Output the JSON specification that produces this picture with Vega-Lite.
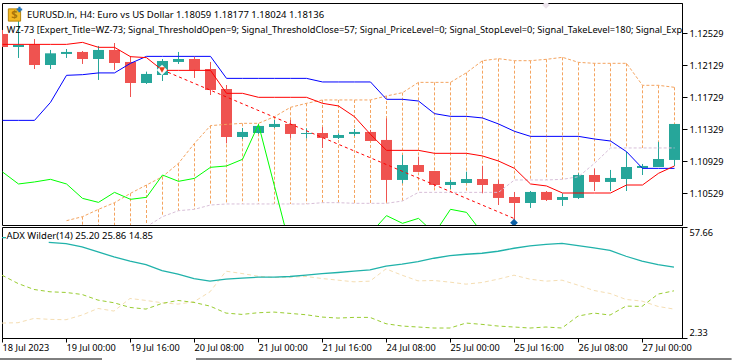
{"$schema":"https://vega.github.io/schema/vega-lite/v6.json","padding":{"top":2,"left":-3,"right":0,"bottom":0},"spacing":2,"bounds":"flush","background":"white","config":{"view":{"stroke":"#000000","strokeWidth":1},"text":{"font":"Noto Sans"},"axis":{"labelFont":"Noto Sans","labelFontSize":9.2,"labelColor":"#000000","domainColor":"#000000","tickColor":"#000000","grid":false,"title":null}},
"datasets":{"price":[
{"i":0,"d":"d","o":1.12517,"c":1.12354,"h":1.12567,"l":1.12354,"blue":1.11437,"red":1.12387,"green":1.10792},
{"i":1,"d":"u","o":1.12354,"c":1.12379,"h":1.12733,"l":1.12217,"blue":1.11437,"red":1.12387,"green":1.10642},
{"i":2,"d":"d","o":1.12387,"c":1.12129,"h":1.12454,"l":1.12079,"blue":1.11437,"red":1.12387,"green":1.10667},
{"i":3,"d":"u","o":1.12129,"c":1.12275,"h":1.12317,"l":1.12079,"blue":1.11662,"red":1.12387,"green":1.107},
{"i":4,"d":"u","o":1.12267,"c":1.12292,"h":1.12329,"l":1.12217,"blue":1.12,"red":1.12387,"green":1.10642,"a":1.10183},
{"i":5,"d":"d","o":1.12292,"c":1.12204,"h":1.12304,"l":1.12142,"blue":1.12008,"red":1.12412,"green":1.10462,"a":1.10233,"b":1.10025},
{"i":6,"d":"u","o":1.12204,"c":1.12317,"h":1.12367,"l":1.11942,"blue":1.1203,"red":1.1235,"green":1.10412,"a":1.10325,"b":1.10025},
{"i":7,"d":"d","o":1.12317,"c":1.12154,"h":1.12404,"l":1.12067,"blue":1.1203,"red":1.1235,"green":1.10537,"a":1.10408,"b":1.10025},
{"i":8,"d":"d","o":1.12167,"c":1.11904,"h":1.12242,"l":1.11729,"blue":1.1215,"red":1.12233,"green":1.1045,"a":1.10525,"b":1.10025},
{"i":9,"d":"u","o":1.11904,"c":1.12017,"h":1.12046,"l":1.11892,"blue":1.12237,"red":1.12221,"green":1.10475,"a":1.10629,"b":1.10108},
{"i":10,"d":"u","o":1.12004,"c":1.12179,"h":1.12204,"l":1.11929,"blue":1.12237,"red":1.12062,"green":1.10754,"a":1.10733,"b":1.10233},
{"i":11,"d":"u","o":1.12167,"c":1.12204,"h":1.12292,"l":1.12142,"blue":1.12237,"red":1.12062,"green":1.10675,"a":1.109,"b":1.10308},
{"i":12,"d":"d","o":1.12204,"c":1.12067,"h":1.12233,"l":1.11967,"blue":1.12237,"red":1.12062,"green":1.10712,"a":1.1115,"b":1.10325},
{"i":13,"d":"d","o":1.12079,"c":1.11817,"h":1.12167,"l":1.11754,"blue":1.12237,"red":1.12062,"green":1.1085,"a":1.11371,"b":1.10379},
{"i":14,"d":"d","o":1.11829,"c":1.11229,"h":1.11879,"l":1.1115,"blue":1.11962,"red":1.11775,"green":1.10867,"a":1.11387,"b":1.10392},
{"i":15,"d":"u","o":1.11229,"c":1.11292,"h":1.11342,"l":1.11204,"blue":1.11962,"red":1.11775,"green":1.1095,"a":1.114,"b":1.10392},
{"i":16,"d":"u","o":1.11279,"c":1.11367,"h":1.11392,"l":1.11267,"blue":1.11962,"red":1.11725,"green":1.11387,"a":1.114,"b":1.10392},
{"i":17,"d":"u","o":1.11354,"c":1.11392,"h":1.11442,"l":1.11342,"blue":1.11962,"red":1.11725,"green":1.10612,"a":1.11483,"b":1.10392},
{"i":18,"d":"d","o":1.11392,"c":1.11267,"h":1.11442,"l":1.11217,"blue":1.11962,"red":1.11725,"green":1.09833,"a":1.116,"b":1.10392},
{"i":19,"d":"u","o":1.11267,"c":1.11279,"h":1.11337,"l":1.11212,"blue":1.11962,"red":1.11725,"green":1.09192,"a":1.1165,"b":1.10392},
{"i":20,"d":"d","o":1.11279,"c":1.11217,"h":1.11354,"l":1.11092,"blue":1.11917,"red":1.1165,"green":1.09192,"a":1.11692,"b":1.10408},
{"i":21,"d":"u","o":1.11217,"c":1.11254,"h":1.11275,"l":1.11204,"blue":1.11917,"red":1.11617,"green":1.09192,"a":1.11692,"b":1.10408},
{"i":22,"d":"u","o":1.11267,"c":1.11292,"h":1.11329,"l":1.11242,"blue":1.11917,"red":1.11483,"green":1.09192,"a":1.11692,"b":1.104},
{"i":23,"d":"d","o":1.11292,"c":1.11179,"h":1.11317,"l":1.11179,"blue":1.11917,"red":1.11262,"green":1.10025,"a":1.11692,"b":1.104},
{"i":24,"d":"d","o":1.11192,"c":1.10692,"h":1.11462,"l":1.10421,"blue":1.117,"red":1.11062,"green":1.10246,"a":1.11742,"b":1.104},
{"i":25,"d":"u","o":1.10692,"c":1.10879,"h":1.11004,"l":1.1065,"blue":1.117,"red":1.11062,"green":1.1015,"a":1.11783,"b":1.10429},
{"i":26,"d":"d","o":1.10879,"c":1.10792,"h":1.10983,"l":1.10792,"blue":1.11679,"red":1.11062,"green":1.10212,"a":1.11912,"b":1.10537},
{"i":27,"d":"d","o":1.10804,"c":1.10629,"h":1.10804,"l":1.10608,"blue":1.11521,"red":1.11025,"green":1.10025,"a":1.11912,"b":1.10537},
{"i":28,"d":"u","o":1.10629,"c":1.10667,"h":1.10692,"l":1.10579,"blue":1.11487,"red":1.11025,"green":1.10325,"a":1.11912,"b":1.10537},
{"i":29,"d":"u","o":1.10654,"c":1.10704,"h":1.10796,"l":1.1065,"blue":1.11487,"red":1.11025,"green":1.10287,"a":1.12033,"b":1.10537},
{"i":30,"d":"d","o":1.10704,"c":1.10629,"h":1.10867,"l":1.10525,"blue":1.11467,"red":1.10992,"green":1.10025,"a":1.12183,"b":1.10537},
{"i":31,"d":"d","o":1.10642,"c":1.10467,"h":1.10692,"l":1.10379,"blue":1.11392,"red":1.10929,"a":1.12208,"b":1.10537},
{"i":32,"d":"d","o":1.10479,"c":1.10404,"h":1.10542,"l":1.10192,"blue":1.113,"red":1.10837,"a":1.12183,"b":1.10692},
{"i":33,"d":"u","o":1.10404,"c":1.10542,"h":1.10554,"l":1.10342,"blue":1.11237,"red":1.10642,"a":1.12183,"b":1.10692},
{"i":34,"d":"d","o":1.10542,"c":1.10442,"h":1.10554,"l":1.10429,"blue":1.11237,"red":1.10617,"a":1.122,"b":1.10692},
{"i":35,"d":"u","o":1.10442,"c":1.10479,"h":1.10525,"l":1.10367,"blue":1.11237,"red":1.10529,"a":1.12225,"b":1.107},
{"i":36,"d":"u","o":1.10467,"c":1.10754,"h":1.10775,"l":1.10454,"blue":1.11237,"red":1.10529,"a":1.12162,"b":1.10733},
{"i":37,"d":"d","o":1.10754,"c":1.10667,"h":1.10837,"l":1.10554,"blue":1.11204,"red":1.10529,"a":1.1215,"b":1.109},
{"i":38,"d":"u","o":1.10667,"c":1.10717,"h":1.10817,"l":1.10554,"blue":1.11179,"red":1.10529,"a":1.1215,"b":1.11092},
{"i":39,"d":"u","o":1.10704,"c":1.10854,"h":1.11046,"l":1.10554,"blue":1.11046,"red":1.10629,"a":1.1215,"b":1.11092},
{"i":40,"d":"u","o":1.10842,"c":1.10867,"h":1.10892,"l":1.10754,"blue":1.10837,"red":1.10629,"a":1.11875,"b":1.11092},
{"i":41,"d":"u","o":1.10854,"c":1.10954,"h":1.11167,"l":1.10854,"blue":1.10837,"red":1.10775,"a":1.11875,"b":1.11092},
{"i":42,"d":"u","o":1.10942,"c":1.11392,"h":1.11392,"l":1.10867,"blue":1.10837,"red":1.10867,"a":1.1185,"b":1.11092}],
"trade":[{"i":10,"p":1.12067},{"i":32,"p":1.10208}],
"one":[{"i":0}],
"adx":[{"i":0,"s":"a","v":52.36},{"i":0.25,"s":"a","v":52.36},{"i":2.92,"s":"b","v":50.04},{"i":4,"s":"b","v":49.38},{"i":5,"s":"b","v":47.72},{"i":6,"s":"b","v":45.24},{"i":7,"s":"b","v":42.75},{"i":8,"s":"b","v":40.6},{"i":9,"s":"b","v":38.94},{"i":10,"s":"b","v":35.96},{"i":11,"s":"b","v":34.14},{"i":12,"s":"b","v":31.98},{"i":13,"s":"b","v":30.66},{"i":14,"s":"b","v":31.65},{"i":15,"s":"b","v":32.15},{"i":16,"s":"b","v":32.65},{"i":17,"s":"b","v":32.65},{"i":18,"s":"b","v":32.98},{"i":19,"s":"b","v":33.64},{"i":20,"s":"b","v":34.47},{"i":21,"s":"b","v":34.97},{"i":22,"s":"b","v":35.63},{"i":23,"s":"b","v":36.29},{"i":24,"s":"b","v":38.11},{"i":25,"s":"b","v":39.11},{"i":26,"s":"b","v":40.43},{"i":27,"s":"b","v":42.09},{"i":28,"s":"b","v":43.41},{"i":29,"s":"b","v":44.08},{"i":30,"s":"b","v":44.57},{"i":31,"s":"b","v":45.57},{"i":32,"s":"b","v":47.06},{"i":33,"s":"b","v":48.22},{"i":34,"s":"b","v":49.05},{"i":35,"s":"b","v":49.54},{"i":36,"s":"b","v":48.38},{"i":37,"s":"b","v":47.22},{"i":38,"s":"b","v":46.06},{"i":39,"s":"b","v":43.08},{"i":40,"s":"b","v":40.6},{"i":41,"s":"b","v":38.94},{"i":42,"s":"b","v":37.62}],
"di":[{"i":0,"p":33.64,"m":9.78},{"i":1,"p":29.5,"m":9.95},{"i":2,"p":26.52,"m":12.1},{"i":3,"p":25.36,"m":11.61},{"i":4,"p":25.03,"m":11.44},{"i":5,"p":24.03,"m":13.76},{"i":6,"p":21.22,"m":17.07},{"i":7,"p":19.89,"m":15.75},{"i":8,"p":17.57,"m":22.04},{"i":9,"p":16.74,"m":21.05},{"i":10,"p":19.56,"m":19.89},{"i":11,"p":21.05,"m":19.23},{"i":12,"p":20.06,"m":20.39},{"i":13,"p":18.23,"m":25.36},{"i":14,"p":14.75,"m":35.63},{"i":15,"p":14.09,"m":34.47},{"i":16,"p":14.92,"m":33.14},{"i":17,"p":15.25,"m":32.48},{"i":18,"p":14.59,"m":32.65},{"i":19,"p":13.93,"m":32.98},{"i":20,"p":12.77,"m":31.98},{"i":21,"p":12.27,"m":31.16},{"i":22,"p":12.6,"m":30.33},{"i":23,"p":12.6,"m":30.66},{"i":24,"p":9.45,"m":36.79},{"i":25,"p":8.29,"m":33.64},{"i":26,"p":7.8,"m":30.82},{"i":27,"p":7.3,"m":30.99},{"i":28,"p":7.3,"m":30.16},{"i":29,"p":9.78,"m":29.17},{"i":30,"p":9.12,"m":30},{"i":31,"p":8.29,"m":31.65},{"i":32,"p":7.8,"m":33.64},{"i":33,"p":7.3,"m":31.65},{"i":34,"p":7.8,"m":30.66},{"i":35,"p":7.3,"m":31.16},{"i":36,"p":13.26,"m":28.67},{"i":37,"p":14.75,"m":26.02},{"i":38,"p":13.76,"m":24.53},{"i":39,"p":18.23,"m":21.55},{"i":40,"p":18.07,"m":20.72},{"i":41,"p":24.2,"m":18.07},{"i":42,"p":25.85,"m":16.74}]},
"vconcat":[
{"width":680,"height":222,"data":{"name":"price"},
"encoding":{"x":{"field":"i","type":"quantitative","axis":null,"scale":{"domain":[0,42.5],"nice":false,"zero":false,"padding":0}}},
"layer":[
{"transform":[{"filter":"isValid(datum.b)"}],"mark":{"type":"rule","clip":true,"xOffset":0.5,"color":"#f4a460","strokeWidth":1,"strokeDash":[3,2]},"encoding":{"y":{"field":"a","type":"quantitative","axis":{"orient":"right","values":[1.10529,1.10929,1.11329,1.11729,1.12129,1.12529],"format":".5f","tickSize":5,"labelPadding":2},"scale":{"domain":[1.10129,1.12904],"zero":false,"nice":false}},"y2":{"field":"b"}}},
{"mark":{"type":"rule","clip":true,"xOffset":0.5,"strokeWidth":1},"encoding":{"y":{"field":"h","type":"quantitative"},"y2":{"field":"l"},"color":{"field":"d","type":"nominal","legend":null,"scale":{"domain":["u","d"],"range":["#26a69a","#ef5350"]}}}},
{"mark":{"type":"bar","clip":true,"xOffset":0.5,"size":11,"orient":"vertical"},"encoding":{"y":{"field":"o","type":"quantitative"},"y2":{"field":"c"},"color":{"field":"d","type":"nominal","legend":null}}},
{"mark":{"type":"line","clip":true,"xOffset":0.5,"color":"#f4a460","strokeWidth":1,"strokeDash":[3,2]},"encoding":{"y":{"field":"a","type":"quantitative"}}},
{"mark":{"type":"line","clip":true,"xOffset":0.5,"color":"#d8bfd8","strokeWidth":1,"strokeDash":[3,2]},"encoding":{"y":{"field":"b","type":"quantitative"}}},
{"mark":{"type":"line","clip":true,"xOffset":0.5,"color":"#00ff00","strokeWidth":1},"encoding":{"y":{"field":"green","type":"quantitative"}}},
{"mark":{"type":"line","clip":true,"xOffset":0.5,"color":"#0000ff","strokeWidth":1},"encoding":{"y":{"field":"blue","type":"quantitative"}}},
{"mark":{"type":"line","clip":true,"xOffset":0.5,"color":"#ff0000","strokeWidth":1},"encoding":{"y":{"field":"red","type":"quantitative"}}},
{"data":{"name":"trade"},"mark":{"type":"line","clip":true,"xOffset":0.5,"color":"#ff0000","strokeWidth":1,"strokeDash":[3,3]},"encoding":{"y":{"field":"p","type":"quantitative"}}},
{"data":{"name":"one"},"mark":{"type":"point","filled":true,"shape":"diamond","size":110,"color":"#ffffff","opacity":1},"encoding":{"x":{"datum":10},"y":{"datum":1.12067}}},
{"data":{"name":"one"},"mark":{"type":"point","filled":true,"shape":"triangle-down","size":38,"color":"#e8431f","opacity":1},"encoding":{"x":{"datum":10},"y":{"datum":1.12067}}},
{"data":{"name":"one"},"mark":{"type":"point","clip":true,"filled":true,"shape":"diamond","size":60,"color":"#0b5fa5","opacity":1},"encoding":{"x":{"datum":32},"y":{"datum":1.10158}}},
{"data":{"name":"one"},"mark":{"type":"point","clip":true,"filled":true,"shape":"diamond","size":60,"color":"#ece4ec","opacity":1},"encoding":{"x":{"datum":34},"y":{"datum":1.12879}}},
{"data":{"name":"one"},"mark":{"type":"point","filled":false,"shape":"square","size":150,"color":"#b8860b","fill":"#f2b824","opacity":1,"strokeWidth":1},"encoding":{"x":{"datum":0.78},"y":{"datum":1.12754}}},
{"data":{"name":"one"},"mark":{"type":"text","fontSize":11,"fontWeight":"bold","color":"#a8750a"},"encoding":{"x":{"datum":0.78},"y":{"datum":1.12754},"text":{"value":"$"}}},
{"data":{"name":"one"},"mark":{"type":"point","filled":true,"shape":"cross","size":30,"color":"#1e73be","opacity":1},"encoding":{"x":{"datum":1.09},"y":{"datum":1.12823}}},
{"data":{"name":"one"},"mark":{"type":"text","align":"left","baseline":"middle","fontSize":9.5,"color":"#000000"},"encoding":{"x":{"datum":1.5625},"y":{"datum":1.1276},"text":{"value":"EURUSD.ln, H4:  Euro vs US Dollar  1.18059 1.18177 1.18024 1.18136"}}},
{"data":{"name":"one"},"mark":{"type":"text","clip":true,"align":"left","baseline":"middle","fontSize":9.25,"color":"#000000"},"encoding":{"x":{"datum":0.3},"y":{"datum":1.12571},"text":{"value":"WZ-73 [Expert_Title=WZ-73; Signal_ThresholdOpen=9; Signal_ThresholdClose=57; Signal_PriceLevel=0; Signal_StopLevel=0; Signal_TakeLevel=180; Signal_Expi"}}}
]},
{"width":680,"height":111,
"encoding":{"x":{"field":"i","type":"quantitative","axis":{"values":[0,4,8,12,16,20,24,28,32,36,40],"labelExpr":"['18 Jul 2023','19 Jul 00:00','19 Jul 16:00','20 Jul 08:00','21 Jul 00:00','21 Jul 16:00','24 Jul 08:00','25 Jul 00:00','25 Jul 16:00','26 Jul 08:00','27 Jul 00:00'][datum.value/4]","labelAlign":"left","labelPadding":1,"tickSize":4,"labelFlush":false,"labelOverlap":false,"labelBound":false},"scale":{"domain":[0,42.5],"nice":false,"zero":false}}},
"layer":[
{"data":{"name":"di"},"mark":{"type":"line","clip":true,"color":"#f5deb3","strokeWidth":1,"strokeDash":[4,3]},"encoding":{"y":{"field":"m","type":"quantitative","axis":{"orient":"right","values":[2.33,57.66],"format":".2f","tickSize":5,"labelPadding":2,"labelFlush":true,"labelFlushOffset":-1},"scale":{"domain":[2.33,57.66],"zero":false,"nice":false}}}},
{"data":{"name":"di"},"mark":{"type":"line","clip":true,"color":"#9acd32","strokeWidth":1,"strokeDash":[4,3]},"encoding":{"y":{"field":"p","type":"quantitative"}}},
{"data":{"name":"adx"},"mark":{"type":"line","clip":true,"color":"#20b2aa","strokeWidth":1.3},"encoding":{"detail":{"field":"s"},"y":{"field":"v","type":"quantitative"}}},
{"data":{"name":"one"},"mark":{"type":"text","align":"left","baseline":"middle","fontSize":9.5,"color":"#000000"},"encoding":{"x":{"datum":0.28},"y":{"datum":53.02},"text":{"value":"ADX Wilder(14) 25.20 25.86 14.85"}}},
{"data":{"name":"one"},"mark":{"type":"rule","color":"#000000","strokeWidth":1},"encoding":{"x":{"datum":-0.19},"x2":{"datum":6.25},"y":{"datum":-8.14}}},
{"data":{"name":"one"},"mark":{"type":"rule","color":"#000000","strokeWidth":1},"encoding":{"x":{"datum":12.125},"x2":{"datum":45.6},"y":{"datum":-8.14}}}
]}
]}
